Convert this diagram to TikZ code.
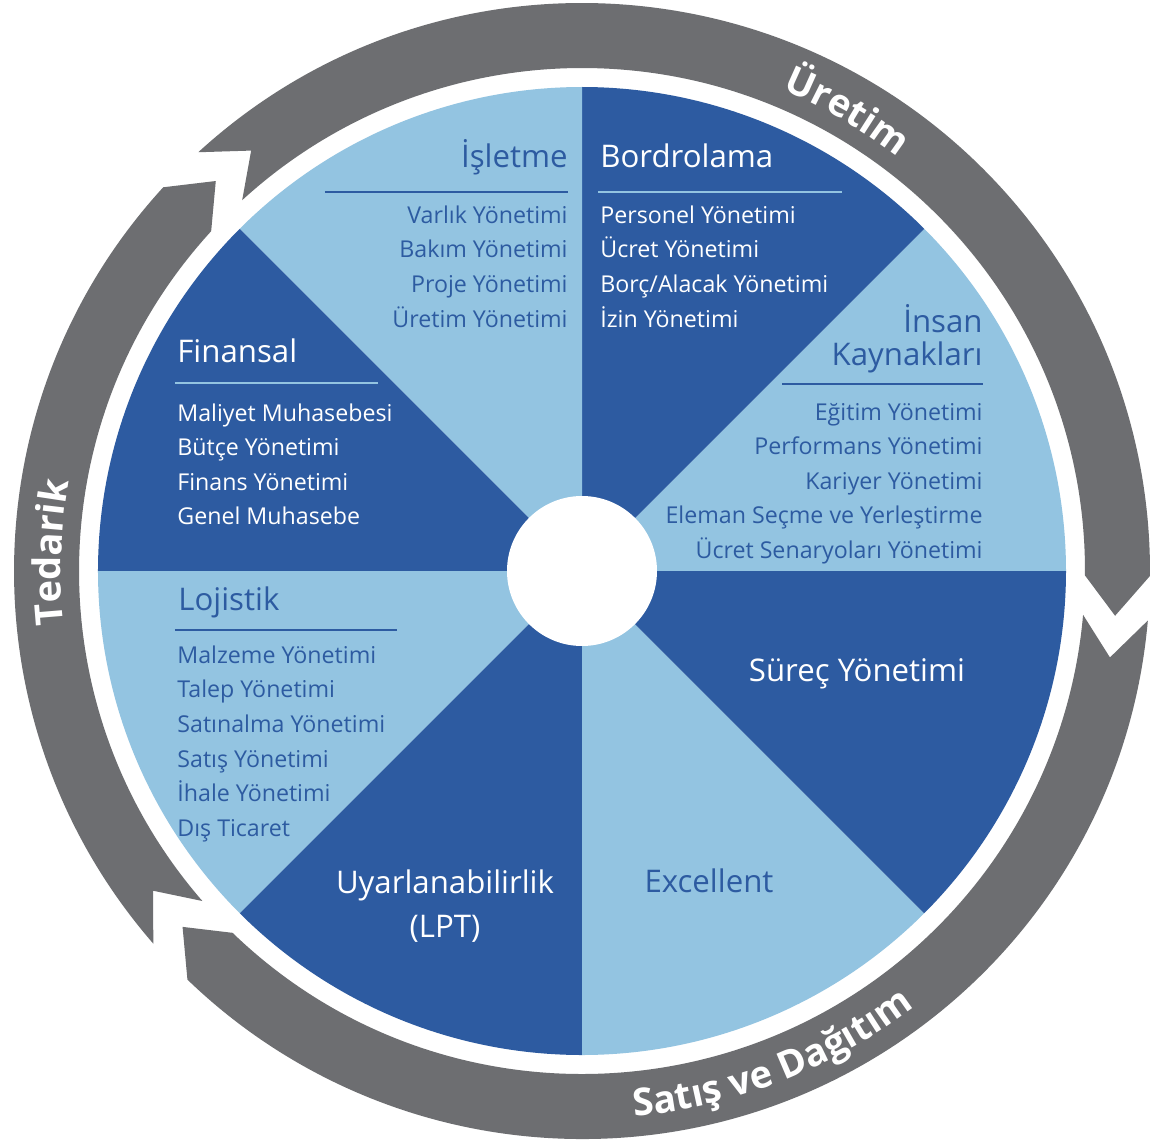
\documentclass[tikz,border=0pt]{standalone}
\usepackage{fontspec}
\setmainfont{Open Sans}
\newfontfamily\ringfont{Open Sans}[UprightFont=* Bold]
\usetikzlibrary{decorations.text}
\definecolor{lightblue}{HTML}{93C4E1}
\definecolor{darkblue}{HTML}{2D5BA1}
\definecolor{ringgray}{HTML}{6D6E71}

% one grey chevron of the outer ring, clockwise from #1 to #2
\newcommand\ringseg[2]{%
  \fill[ringgray] (#1:568) arc[start angle=#1, end angle=#2, radius=568]
    -- (#2-4.3:535) -- (#2:503) arc[start angle=#2, end angle=#1, radius=503]
    -- (#1-4.3:535) -- cycle;}

\begin{document}
\begin{tikzpicture}[
    x=0.5pt, y=0.5pt,
    head/.style={inner sep=0pt, font=\fontsize{15.6}{19}\selectfont},
    entry/.style={inner sep=0pt, font=\fontsize{11.6}{14}\selectfont},
    onlight/.style={text=darkblue},
    ondark/.style={text=white},
    rulelight/.style={draw=darkblue, line width=1.3pt},
    ruledark/.style={draw=lightblue, line width=1.3pt},
    ringlabel/.style={decorate, decoration={text along path, text align=center,
                      text={|\fontsize{19}{22}\ringfont\color{white}|#1}}},
  ]
    \useasboundingbox (-582,-576) rectangle (569,571);
    \fill[white] (-582,-576) rectangle (569,571);

    % outer ring
    \ringseg{132.5}{-0.5}
    \ringseg{-5}{-134}
    \ringseg{221}{137.5}
    \path[ringlabel={Üretim}] (80:521) arc[start angle=80, end angle=40, radius=521];
    \path[ringlabel={Satış ve Dağıtım}] (-108.6:548) arc[start angle=-108.6, end angle=-28.6, radius=548];
    \path[ringlabel={Tedarik}] (210:521) arc[start angle=210, end angle=146, radius=521];

    % pie
    \foreach \a/\c in {0/lightblue, 45/darkblue, 90/lightblue, 135/darkblue,
                       180/lightblue, 225/darkblue, 270/lightblue, 315/darkblue}
      \fill[\c] (0,0) -- (\a:484) arc[start angle=\a, end angle=\a+45, radius=484] -- cycle;
    \node[circle, fill=white, inner sep=0pt, minimum size=75pt] (hub) at (0,0) {};

    % Isletme
    \node[head, onlight, anchor=base east] (islet) at (-14,403) {İşletme};
    \draw[rulelight] (-257,379) -- (-14,379);
    \foreach \t [count=\i from 0] in {Varlık Yönetimi, Bakım Yönetimi, Proje Yönetimi, Üretim Yönetimi}
      \node[entry, onlight, anchor=base east] (islet\i) at (-14,348-34.7*\i) {\t};

    % Bordrolama
    \node[head, ondark, anchor=base west] (bordro) at (18,403) {Bordrolama};
    \draw[ruledark] (16,379) -- (260,379);
    \foreach \t [count=\i from 0] in {Personel Yönetimi, Ücret Yönetimi, Borç/Alacak Yönetimi, İzin Yönetimi}
      \node[entry, ondark, anchor=base west] (bordro\i) at (18,348-34.7*\i) {\t};

    % Insan Kaynaklari
    \node[head, onlight, anchor=base east] (insan) at (401,239) {İnsan};
    \node[head, onlight, anchor=base east] (kaynak) at (401,206) {Kaynakları};
    \draw[rulelight] (200,187) -- (401,187);
    \foreach \t [count=\i from 0] in {Eğitim Yönetimi, Performans Yönetimi, Kariyer Yönetimi,
                                      Eleman Seçme ve Yerleştirme, Ücret Senaryoları Yönetimi}
      \node[entry, onlight, anchor=base east] (insan\i) at (401,151-34.6*\i) {\t};

    % Finansal
    \node[head, ondark, anchor=base west] (finans) at (-405,209) {Finansal};
    \draw[ruledark] (-407,188) -- (-204,188);
    \foreach \t [count=\i from 0] in {Maliyet Muhasebesi, Bütçe Yönetimi, Finans Yönetimi, Genel Muhasebe}
      \node[entry, ondark, anchor=base west] (finans\i) at (-405,150-34.5*\i) {\t};

    % Lojistik
    \node[head, onlight, anchor=base west] (lojis) at (-404,-39) {Lojistik};
    \draw[rulelight] (-407,-59) -- (-185,-59);
    \foreach \t [count=\i from 0] in {Malzeme Yönetimi, Talep Yönetimi, Satınalma Yönetimi,
                                      Satış Yönetimi, İhale Yönetimi, Dış Ticaret}
      \node[entry, onlight, anchor=base west] (lojis\i) at (-405,-92-34.7*\i) {\t};

    % lower sectors
    \node[head, ondark, anchor=base] (surec) at (275,-110) {Süreç Yönetimi};
    \node[head, onlight, anchor=base] (excel) at (127,-321) {Excellent};
    \node[head, ondark, anchor=base] (uyarla) at (-137,-322) {Uyarlanabilirlik};
    \node[head, ondark, anchor=base] (lpt) at (-137,-366) {(LPT)};
  \end{tikzpicture}
\end{document}
